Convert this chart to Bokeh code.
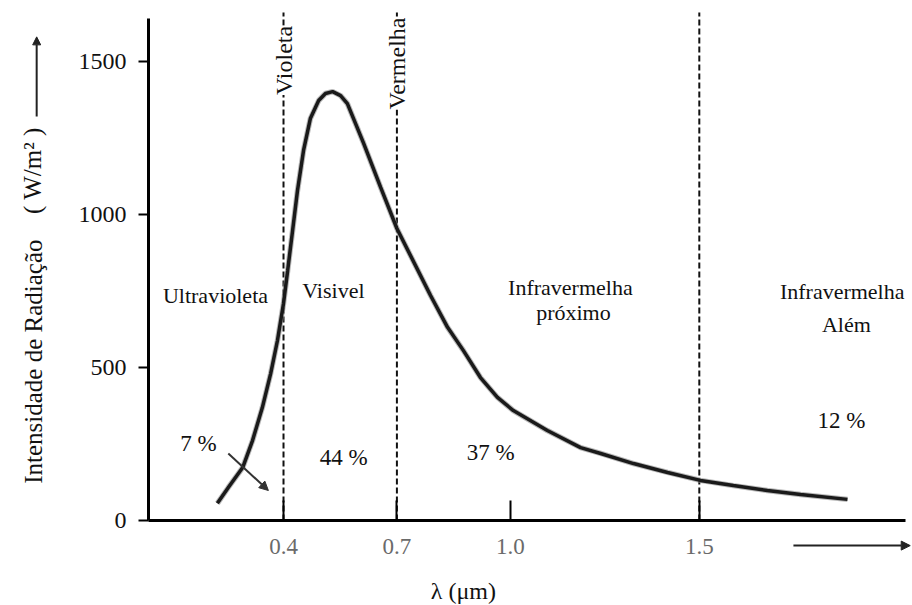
import math
from bokeh.plotting import figure
from bokeh.models import Range1d, Arrow, NormalHead, FixedTicker
from bokeh.core.properties import value
from bokeh.embed import file_html
from bokeh.resources import INLINE

# ---- data ----
wavelength = [0.225, 0.254, 0.292, 0.318, 0.344, 0.366, 0.384, 0.400, 0.411, 0.424,
              0.437, 0.453, 0.471, 0.493, 0.511, 0.530, 0.551, 0.569, 0.612, 0.657,
              0.700, 0.789, 0.834, 0.876, 0.921, 0.966, 1.008, 1.098, 1.186, 1.239,
              1.326, 1.416, 1.503, 1.590, 1.680, 1.768, 1.892]
intensity = [56, 108, 173, 261, 369, 480, 588, 709, 817, 947,
             1078, 1209, 1313, 1372, 1395, 1401, 1388, 1362, 1232, 1088,
             954, 735, 631, 555, 467, 402, 359, 294, 238, 219,
             186, 157, 131, 114, 98, 85, 69]
boundaries = [0.4, 0.7, 1.5]
boundary_names = ["Violeta", "Vermelha"]
x_ticks = [0.4, 0.7, 1.0, 1.5]
x_tick_labels = ["0.4", "0.7", "1.0", "1.5"]
y_ticks = [0, 500, 1000, 1500]
region_names = ["Ultravioleta", "Visivel", "Infravermelha", "Infravermelha"]
region_subnames = ["próximo", "Além"]
shares = ["7 %", "44 %", "37 %", "12 %"]
y_title = ["Intensidade de Radiação", "( W/m² )"]
x_title = ["λ (μm)"]

FONT = "Liberation Serif"
X0, X1 = 0.0429, 2.0455      # extent of the drawn x axis
Y1 = 1640                    # top of the drawn y axis
LINE_TOP = 1660              # top of the dashed boundary lines

p = figure(width=912, height=605,
           x_range=Range1d(-0.3487, 2.0640), y_range=Range1d(-277.7, 1698.8),
           output_backend="svg", toolbar_location=None,
           min_border_left=0, min_border_right=0,
           min_border_top=0, min_border_bottom=0)
p.outline_line_color = None
p.grid.visible = False
p.background_fill_color = "white"

# x axis (sits at intensity 0)
xa = p.xaxis[0]
xa.fixed_location = 0
xa.bounds = (X0, X1)
xa.ticker = FixedTicker(ticks=x_ticks)
xa.major_label_overrides = {t: l for t, l in zip(x_ticks, x_tick_labels)}
xa.axis_line_width = 3
xa.axis_line_color = "black"
xa.major_tick_in = 20
xa.major_tick_out = 0
xa.major_tick_line_width = 2
xa.minor_tick_in = 0
xa.minor_tick_out = 0
xa.major_label_text_font = FONT
xa.major_label_text_font_size = "23px"
xa.major_label_text_color = "#6a6a6a"
xa.major_label_standoff = 19

# y axis (sits at the left end of the x axis)
ya = p.yaxis[0]
ya.fixed_location = X0
ya.bounds = (0, Y1)
ya.ticker = FixedTicker(ticks=y_ticks)
ya.axis_line_width = 3
ya.axis_line_color = "black"
ya.major_tick_in = 0
ya.major_tick_out = 10
ya.major_tick_line_width = 2
ya.minor_tick_in = 0
ya.minor_tick_out = 0
ya.major_label_text_font = FONT
ya.major_label_text_font_size = "24px"
ya.major_label_text_color = "#111"
ya.major_label_standoff = 12

# dashed boundary lines
p.segment(x0=boundaries, y0=[0] * len(boundaries), x1=boundaries,
          y1=[LINE_TOP] * len(boundaries),
          line_color="#111", line_width=2, line_dash="6 3")

# curve
p.line(wavelength, intensity, line_width=5.5, line_color="#8a8a8a", line_alpha=0.6)
p.line(wavelength, intensity, line_width=3.5, line_color="#1a1a1a")

def texts(xs, ys, labels, size, angle=0.0, **kw):
    p.text(x=xs, y=ys, text=labels, angle=angle,
           text_font=value(FONT), text_font_size=size,
           text_align="center", text_baseline="middle",
           text_color="#111", **kw)

# boundary names (vertical, masking the dashed line)
texts(boundaries[:2], [1503, 1493], boundary_names, "24px", angle=math.pi / 2,
      background_fill_color="white")

# region names
texts([0.220, 0.532, 1.159, 1.878], [735, 751, 761, 748], region_names, "22px")
texts([1.167, 1.889], [680, 640], region_subnames, "22px")

# shares
texts([0.175, 0.559, 0.948, 1.876], [252, 206, 222, 327], shares, "23px")

# 7% pointer arrow
p.add_layout(Arrow(end=NormalHead(size=9, fill_color="#333", line_color="#333"),
                   x_start=0.254, y_start=219, x_end=0.36, y_end=98,
                   line_width=2, line_color="#333"))

# axis titles
texts([-0.261, -0.264], [519, 1143], y_title, "25px", angle=math.pi / 2)
p.add_layout(Arrow(end=NormalHead(size=8, fill_color="#222", line_color="#222"),
                   x_start=-0.253, y_start=1320, x_end=-0.253, y_end=1580,
                   line_width=2, line_color="#222"))
texts([0.876], [-229], x_title, "24px")
p.add_layout(Arrow(end=NormalHead(size=9, fill_color="#222", line_color="#222"),
                   x_start=1.749, y_start=-82, x_end=2.058, y_end=-82,
                   line_width=2, line_color="#222"))

open("out.html", "w").write(file_html(p, INLINE))
